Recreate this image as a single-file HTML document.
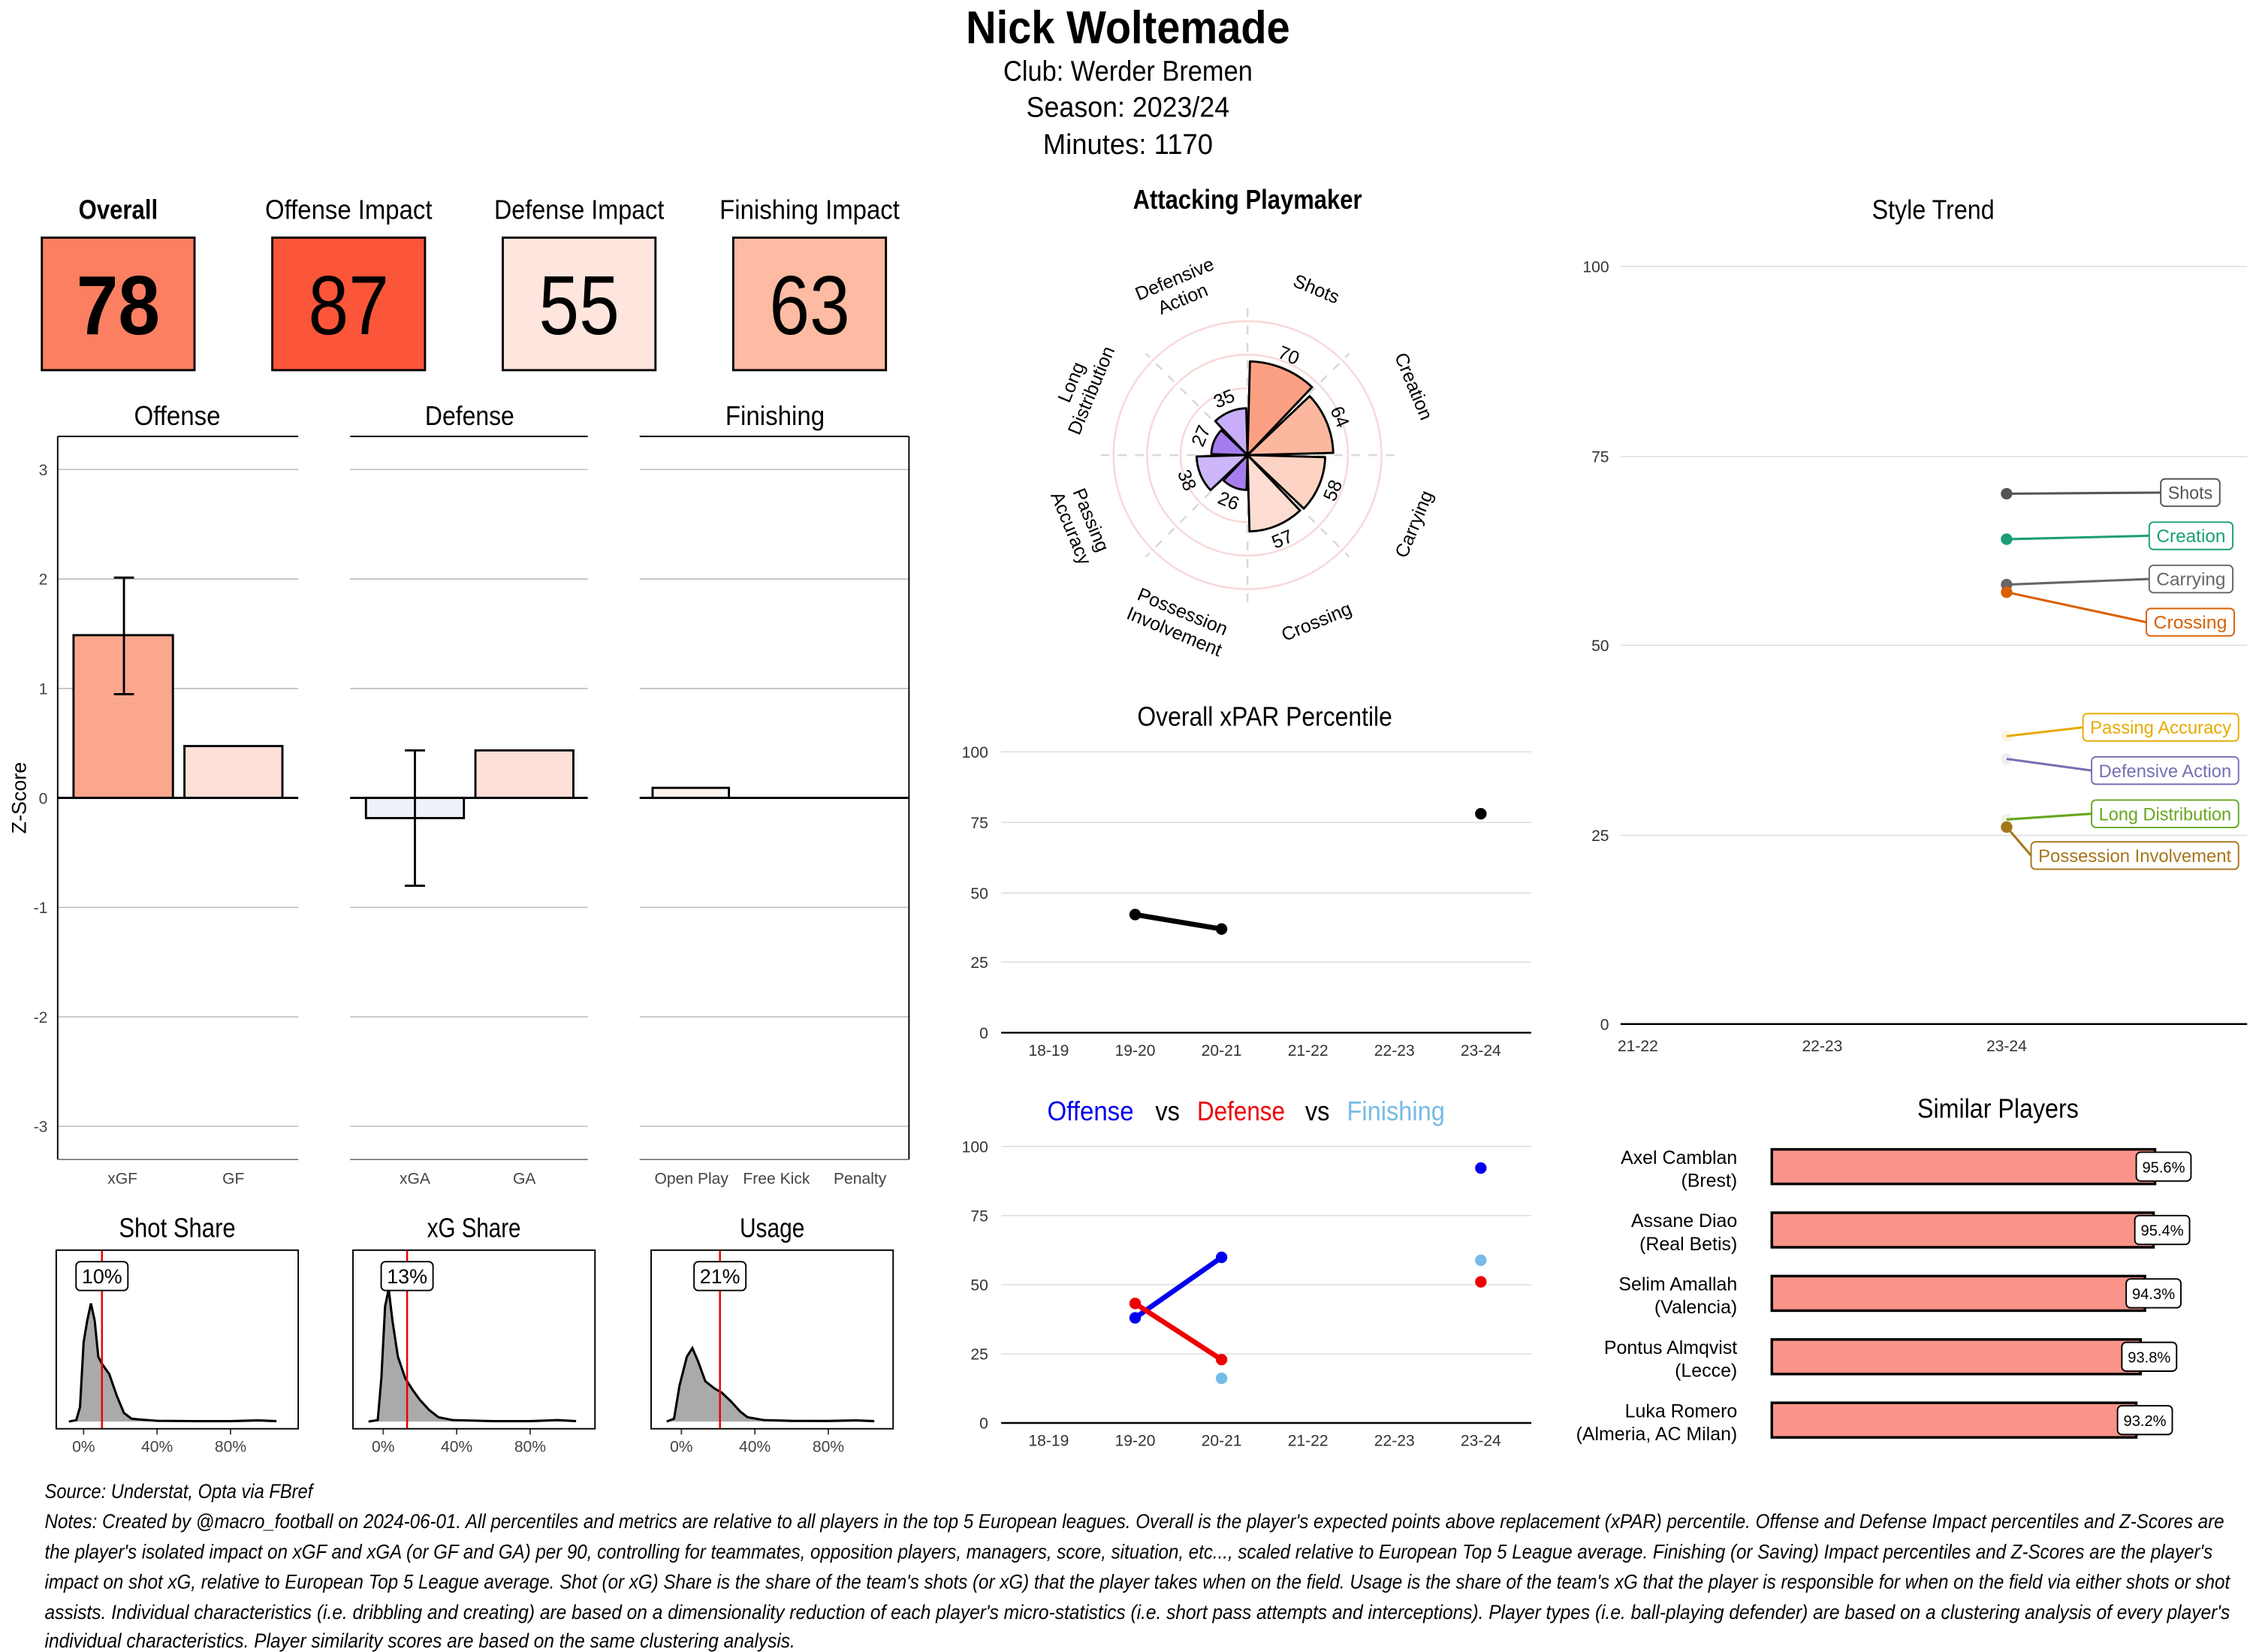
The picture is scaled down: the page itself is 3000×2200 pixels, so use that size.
<!DOCTYPE html>
<html><head><meta charset="utf-8"><style>
html,body{margin:0;padding:0;background:#fff;}
svg{display:block;}
text{font-family:"Liberation Sans Narrow","Liberation Sans",sans-serif;}
.a{font-family:"Liberation Sans",sans-serif;}
</style></head><body>
<svg id="s" width="3000" height="2200" viewBox="0 0 1564 1147" xmlns="http://www.w3.org/2000/svg">
<rect width="1564" height="1147" fill="#fff"/>
<text x="783" y="30" font-size="32" font-weight="bold" text-anchor="middle" textLength="225" lengthAdjust="spacingAndGlyphs">Nick Woltemade</text>
<text x="783" y="56" font-size="20" text-anchor="middle" textLength="173" lengthAdjust="spacingAndGlyphs">Club:  Werder Bremen</text>
<text x="783" y="81" font-size="20" text-anchor="middle" textLength="141" lengthAdjust="spacingAndGlyphs">Season:  2023/24</text>
<text x="783" y="107" font-size="20" text-anchor="middle" textLength="118" lengthAdjust="spacingAndGlyphs">Minutes:  1170</text>

<g font-size="19" text-anchor="middle">
<text x="82" y="152" font-weight="bold" textLength="55" lengthAdjust="spacingAndGlyphs">Overall</text>
<text x="242" y="152" textLength="116" lengthAdjust="spacingAndGlyphs">Offense Impact</text>
<text x="402" y="152" textLength="118" lengthAdjust="spacingAndGlyphs">Defense Impact</text>
<text x="562" y="152" textLength="125" lengthAdjust="spacingAndGlyphs">Finishing Impact</text>
</g>
<g stroke="#000" stroke-width="1.5">
<rect x="29" y="165" width="106" height="92" fill="#FC7F62"/>
<rect x="189" y="165" width="106" height="92" fill="#FB5639"/>
<rect x="349" y="165" width="106" height="92" fill="#FEE5DD"/>
<rect x="509" y="165" width="106" height="92" fill="#FCBBA2"/>
</g>
<g font-size="58" text-anchor="middle">
<text x="82" y="232" font-weight="bold" textLength="58" lengthAdjust="spacingAndGlyphs">78</text>
<text x="242" y="232" textLength="56" lengthAdjust="spacingAndGlyphs">87</text>
<text x="402" y="232" textLength="56" lengthAdjust="spacingAndGlyphs">55</text>
<text x="562" y="232" textLength="56" lengthAdjust="spacingAndGlyphs">63</text>
</g>

<g font-size="19" text-anchor="middle">
<text x="123" y="295" textLength="60" lengthAdjust="spacingAndGlyphs">Offense</text>
<text x="326" y="295" textLength="62" lengthAdjust="spacingAndGlyphs">Defense</text>
<text x="538" y="295" textLength="69" lengthAdjust="spacingAndGlyphs">Finishing</text>
</g>
<g stroke="#bbb" stroke-width="0.8">
<line x1="40" x2="207" y1="326" y2="326"/><line x1="40" x2="207" y1="402" y2="402"/><line x1="40" x2="207" y1="478" y2="478"/><line x1="40" x2="207" y1="630" y2="630"/><line x1="40" x2="207" y1="706" y2="706"/><line x1="40" x2="207" y1="782" y2="782"/>
<line x1="243" x2="408" y1="326" y2="326"/><line x1="243" x2="408" y1="402" y2="402"/><line x1="243" x2="408" y1="478" y2="478"/><line x1="243" x2="408" y1="630" y2="630"/><line x1="243" x2="408" y1="706" y2="706"/><line x1="243" x2="408" y1="782" y2="782"/>
<line x1="444" x2="631" y1="326" y2="326"/><line x1="444" x2="631" y1="402" y2="402"/><line x1="444" x2="631" y1="478" y2="478"/><line x1="444" x2="631" y1="630" y2="630"/><line x1="444" x2="631" y1="706" y2="706"/><line x1="444" x2="631" y1="782" y2="782"/>
</g>
<g stroke="#000" stroke-width="1" fill="none">
<line x1="40" x2="207" y1="303" y2="303"/><line x1="243" x2="408" y1="303" y2="303"/><line x1="444" x2="631" y1="303" y2="303"/>
<line x1="40" x2="40" y1="303" y2="805"/><line x1="631" x2="631" y1="303" y2="805"/>
<line x1="40" x2="207" y1="805" y2="805" stroke="#333" stroke-width="0.6"/>
<line x1="243" x2="408" y1="805" y2="805" stroke="#333" stroke-width="0.6"/>
<line x1="444" x2="631" y1="805" y2="805" stroke="#333" stroke-width="0.6"/>
</g>
<g stroke="#000" stroke-width="1.5">
<rect x="51" y="441" width="69" height="113" fill="#FBA78E"/>
<rect x="128" y="518" width="68" height="36" fill="#FDE0D8"/>
<rect x="254" y="554" width="68" height="14" fill="#EEF0FA"/>
<rect x="330" y="521" width="68" height="33" fill="#FDE0D8"/>
<rect x="453" y="547" width="53" height="7" fill="#FFF5F0"/>
</g>
<g stroke="#000" stroke-width="1.5">
<line x1="40" x2="207" y1="554" y2="554"/><line x1="243" x2="408" y1="554" y2="554"/><line x1="444" x2="631" y1="554" y2="554"/>
<line x1="86" x2="86" y1="401" y2="482"/><line x1="79" x2="93" y1="401" y2="401"/><line x1="79" x2="93" y1="482" y2="482"/>
<line x1="288" x2="288" y1="521" y2="615"/><line x1="281" x2="295" y1="521" y2="521"/><line x1="281" x2="295" y1="615" y2="615"/>
</g>
<g font-size="11" fill="#444" text-anchor="end">
<text x="33" y="330">3</text><text x="33" y="406">2</text><text x="33" y="482">1</text><text x="33" y="558">0</text><text x="33" y="634">-1</text><text x="33" y="710">-2</text><text x="33" y="786">-3</text>
</g>
<text x="18" y="554" font-size="14" text-anchor="middle" transform="rotate(-90 18 554)">Z-Score</text>
<g font-size="11" fill="#444" text-anchor="middle">
<text x="85" y="822">xGF</text><text x="162" y="822">GF</text><text x="288" y="822">xGA</text><text x="364" y="822">GA</text>
<text x="480" y="822">Open Play</text><text x="539" y="822">Free Kick</text><text x="597" y="822">Penalty</text>
</g>

<g font-size="19" text-anchor="middle">
<text x="123" y="859" textLength="81" lengthAdjust="spacingAndGlyphs">Shot Share</text><text x="329" y="859" textLength="65" lengthAdjust="spacingAndGlyphs">xG Share</text><text x="536" y="859" textLength="45" lengthAdjust="spacingAndGlyphs">Usage</text>
</g>
<g id="dens"></g>
<g stroke="#000" stroke-width="1" fill="none">
<rect x="39" y="868" width="168" height="124"/><rect x="245" y="868" width="168" height="124"/><rect x="452" y="868" width="168" height="124"/>
</g>
<g font-size="11" fill="#444" text-anchor="middle">
<text x="58" y="1008">0%</text><text x="109" y="1008">40%</text><text x="160" y="1008">80%</text>
<text x="266" y="1008">0%</text><text x="317" y="1008">40%</text><text x="368" y="1008">80%</text>
<text x="473" y="1008">0%</text><text x="524" y="1008">40%</text><text x="575" y="1008">80%</text>
</g>

<text x="866" y="145" font-size="19" font-weight="bold" text-anchor="middle" textLength="159" lengthAdjust="spacingAndGlyphs">Attacking Playmaker</text>
<g id="polar"></g>

<text x="878" y="504" font-size="19" text-anchor="middle" textLength="177" lengthAdjust="spacingAndGlyphs">Overall xPAR Percentile</text>
<g stroke="#ddd" stroke-width="0.8">
<line x1="695" x2="1063" y1="522" y2="522"/><line x1="695" x2="1063" y1="571" y2="571"/><line x1="695" x2="1063" y1="620" y2="620"/><line x1="695" x2="1063" y1="668" y2="668"/>
</g>
<line x1="695" x2="1063" y1="717" y2="717" stroke="#000" stroke-width="1.3"/>
<g font-size="11" fill="#333" text-anchor="end">
<text class="a" x="686" y="526">100</text><text class="a" x="686" y="575">75</text><text class="a" x="686" y="624">50</text><text class="a" x="686" y="672">25</text><text class="a" x="686" y="721">0</text>
</g>
<g font-size="11" fill="#333" text-anchor="middle">
<text class="a" x="728" y="733">18-19</text><text class="a" x="788" y="733">19-20</text><text class="a" x="848" y="733">20-21</text><text class="a" x="908" y="733">21-22</text><text class="a" x="968" y="733">22-23</text><text class="a" x="1028" y="733">23-24</text>
</g>
<line x1="788" y1="635" x2="848" y2="645" stroke="#000" stroke-width="3.5"/>
<circle cx="788" cy="635" r="4"/><circle cx="848" cy="645" r="4"/><circle cx="1028" cy="565" r="4"/>

<g font-size="19">
<text x="727" y="778" fill="#0000EE" textLength="60" lengthAdjust="spacingAndGlyphs">Offense</text>
<text x="802" y="778" textLength="17" lengthAdjust="spacingAndGlyphs">vs</text>
<text x="831" y="778" fill="#EE0000" textLength="61" lengthAdjust="spacingAndGlyphs">Defense</text>
<text x="906" y="778" textLength="17" lengthAdjust="spacingAndGlyphs">vs</text>
<text x="935" y="778" fill="#74BBE8" textLength="68" lengthAdjust="spacingAndGlyphs">Finishing</text>
</g>
<g stroke="#ddd" stroke-width="0.8">
<line x1="695" x2="1063" y1="796" y2="796"/><line x1="695" x2="1063" y1="844" y2="844"/><line x1="695" x2="1063" y1="892" y2="892"/><line x1="695" x2="1063" y1="940" y2="940"/>
</g>
<line x1="695" x2="1063" y1="988" y2="988" stroke="#000" stroke-width="1.3"/>
<g font-size="11" fill="#333" text-anchor="end">
<text class="a" x="686" y="800">100</text><text class="a" x="686" y="848">75</text><text class="a" x="686" y="896">50</text><text class="a" x="686" y="944">25</text><text class="a" x="686" y="992">0</text>
</g>
<g font-size="11" fill="#333" text-anchor="middle">
<text class="a" x="728" y="1004">18-19</text><text class="a" x="788" y="1004">19-20</text><text class="a" x="848" y="1004">20-21</text><text class="a" x="908" y="1004">21-22</text><text class="a" x="968" y="1004">22-23</text><text class="a" x="1028" y="1004">23-24</text>
</g>
<line x1="788" y1="915" x2="848" y2="873" stroke="#0000EE" stroke-width="3.5"/>
<line x1="788" y1="905" x2="848" y2="944" stroke="#EE0000" stroke-width="3.5"/>
<circle cx="788" cy="905" r="4" fill="#EE0000"/><circle cx="848" cy="944" r="4" fill="#EE0000"/>
<circle cx="788" cy="915" r="4" fill="#0000EE"/><circle cx="848" cy="873" r="4" fill="#0000EE"/>
<circle cx="848" cy="957" r="4" fill="#74BBE8"/><circle cx="1028" cy="875" r="4" fill="#74BBE8"/>
<circle cx="1028" cy="811" r="4" fill="#0000EE"/><circle cx="1028" cy="890" r="4" fill="#EE0000"/>

<text x="1342" y="152" font-size="19" text-anchor="middle" textLength="85" lengthAdjust="spacingAndGlyphs">Style Trend</text>
<g stroke="#ddd" stroke-width="0.8">
<line x1="1125" x2="1560" y1="185" y2="185"/><line x1="1125" x2="1560" y1="317" y2="317"/><line x1="1125" x2="1560" y1="448" y2="448"/><line x1="1125" x2="1560" y1="580" y2="580"/>
</g>
<line x1="1125" x2="1560" y1="711" y2="711" stroke="#000" stroke-width="1.3"/>
<g font-size="11" fill="#333" text-anchor="end">
<text class="a" x="1117" y="189">100</text><text class="a" x="1117" y="321">75</text><text class="a" x="1117" y="452">50</text><text class="a" x="1117" y="584">25</text><text class="a" x="1117" y="715">0</text>
</g>
<g font-size="11" fill="#333" text-anchor="middle">
<text class="a" x="1137" y="730">21-22</text><text class="a" x="1265" y="730">22-23</text><text class="a" x="1393" y="730">23-24</text>
</g>
<g id="style"></g>

<text x="1387" y="776" font-size="19" text-anchor="middle" textLength="112" lengthAdjust="spacingAndGlyphs">Similar Players</text>
<g id="sim"></g>

<g font-size="14" font-style="italic">
<text x="31" y="1040" textLength="186" lengthAdjust="spacingAndGlyphs">Source: Understat, Opta via FBref</text>
<text x="31" y="1061" textLength="1513" lengthAdjust="spacingAndGlyphs">Notes: Created by @macro_football on 2024-06-01. All percentiles and metrics are relative to all players in the top 5 European leagues. Overall is the player's expected points above replacement (xPAR) percentile. Offense and Defense Impact percentiles and Z-Scores are</text>
<text x="31" y="1082" textLength="1505" lengthAdjust="spacingAndGlyphs">the player's isolated impact on xGF and xGA (or GF and GA) per 90, controlling for teammates, opposition players, managers, score, situation, etc..., scaled relative to European Top 5 League average. Finishing (or Saving) Impact percentiles and Z-Scores are the player's</text>
<text x="31" y="1103" textLength="1517" lengthAdjust="spacingAndGlyphs">impact on shot xG, relative to European Top 5 League average. Shot (or xG) Share is the share of the team's shots (or xG) that the player takes when on the field. Usage is the share of the team's xG that the player is responsible for when on the field via either shots or shot</text>
<text x="31" y="1124" textLength="1517" lengthAdjust="spacingAndGlyphs">assists. Individual characteristics (i.e. dribbling and creating) are based on a dimensionality reduction of each player's micro-statistics (i.e. short pass attempts and interceptions). Player types (i.e. ball-playing defender) are based on a clustering analysis of every player's</text>
<text x="31" y="1144" textLength="521" lengthAdjust="spacingAndGlyphs">individual characteristics. Player similarity scores are based on the same clustering analysis.</text>
</g>
</svg>
<script>
var NS="http://www.w3.org/2000/svg";
function el(p,t,a,txt){var e=document.createElementNS(NS,t);for(var k in a)e.setAttribute(k,a[k]);if(txt!==undefined)e.textContent=txt;p.appendChild(e);return e;}
var dens=document.getElementById('dens');
var D=[
 {x0:58,m:10,pts:[[-8,0],[-4,1],[-2,10],[0,55],[2,70],[4,82],[6,70],[8,45],[10,40],[14,33],[18,18],[22,6],[26,2],[30,1.5],[40,0.5],[60,0.3],[80,0.3],[95,0.8],[105,0.3]]},
 {x0:266,m:13,pts:[[-8,0],[-3,1],[-1,30],[1,80],[3,92],[5,70],[8,45],[12,30],[16,22],[20,15],[25,8],[30,3],[38,1],[60,0.3],[80,0.3],[95,1],[105,0.3]]},
 {x0:473,m:21,pts:[[-8,0],[-4,2],[-1,25],[3,45],[6,51],[9,42],[13,28],[18,23],[22,20],[27,14],[32,7],[36,3],[45,1],[60,0.5],[80,0.4],[95,0.8],[105,0.3]]}
];
D.forEach(function(d){
 var s=1.275,b=987,p="";
 d.pts.forEach(function(q,i){var x=d.x0+q[0]*s,y=b-q[1];p+=(i?"L":"M")+x.toFixed(1)+","+y.toFixed(1);});
 var first=d.x0+d.pts[0][0]*s,last=d.x0+d.pts[d.pts.length-1][0]*s;
 el(dens,'path',{d:p+"L"+last+","+b+"L"+first+","+b+"Z",fill:"#AAAAAA"});
 el(dens,'path',{d:p,fill:"none",stroke:"#000","stroke-width":1.6});
 var rx=d.x0+d.m*s;
 el(dens,'line',{x1:rx,x2:rx,y1:868,y2:992,stroke:"#E00",'stroke-width':1.3});
 el(dens,'rect',{x:rx-18,y:876,width:36,height:20,rx:3,fill:"#fff",stroke:"#000","stroke-width":1});
 el(dens,'text',{x:rx,y:891,'font-size':14,'text-anchor':'middle'},d.m+"%");
 [0,40,80].forEach(function(v){var x=d.x0+v*s;el(dens,'line',{x1:x,x2:x,y1:992,y2:996,stroke:"#444"});});
});
var P=document.getElementById('polar'),cx=866,cy=316,K=0.93;
function pt(r,a){var t=a*Math.PI/180;return [cx+r*Math.sin(t),cy-r*Math.cos(t)];}
[25,50,75,100].forEach(function(v){el(P,'circle',{cx:cx,cy:cy,r:v*K,fill:"none",stroke:"#F7D9D9","stroke-width":1.3});});
for(var i=0;i<8;i++){var a=i*45,L=(i%2==0)?102:100;var q=pt(L,a),q0=pt(0,a);el(P,'line',{x1:q0[0],y1:q0[1],x2:q[0],y2:q[1],stroke:"#D8D8D8","stroke-width":1.3,"stroke-dasharray":"6,6"});}
var B=[["Shots",70,"#FBA083"],["Creation",64,"#FCB89F"],["Carrying",58,"#FDD3C4"],["Crossing",57,"#FDDDD2"],["Possession\nInvolvement",26,"#A57DEE"],["Passing\nAccuracy",38,"#CDB7FA"],["Long\nDistribution",27,"#A57DEE"],["Defensive\nAction",35,"#C8AEF8"]];
function rot(a){if(a<=90)return a;if(a<270)return a-180;return a-360;}
B.forEach(function(b,i){
 var a0=i*45+1.5,a1=i*45+43.5,r=b[1]*K,p0=pt(r,a0),p1=pt(r,a1);
 el(P,'path',{d:"M"+cx+","+cy+"L"+p0[0]+","+p0[1]+"A"+r+","+r+" 0 0 1 "+p1[0]+","+p1[1]+"Z",fill:b[2],stroke:"#000","stroke-width":1.5,"stroke-linejoin":"round"});
});
B.forEach(function(b,i){
 var a=i*45+22.5,r=b[1]*K+10,p=pt(r,a);
 el(P,'text',{x:p[0],y:p[1]+4.5,'font-size':13,'text-anchor':'middle','class':'a',transform:"rotate("+rot(a)+" "+p[0]+" "+p[1]+")"},b[1]);
 var lp=pt(125,a),lines=b[0].split("\n");
 var t=el(P,'text',{x:lp[0],y:lp[1],'font-size':13,'text-anchor':'middle','class':'a',transform:"rotate("+rot(a)+" "+lp[0]+" "+lp[1]+")"});
 lines.forEach(function(s,j){el(t,'tspan',{x:lp[0],y:lp[1]+4.5+(j-(lines.length-1)/2)*15},s);});
});
var S=document.getElementById('style');
var T=[["Shots",70,"#555555",342,1500,1541],["Creation",64,"#1B9E77",372,1492,1550],["Carrying",58,"#666666",402,1492,1550],["Crossing",57,"#D95F02",432,1490,1551],["Passing Accuracy",38,"#E6AB02",505,1446,1554],["Defensive Action",35,"#7570B3",535,1452,1554],["Long Distribution",27,"#66A61E",565,1452,1554],["Possession Involvement",26,"#A6761D",594,1410,1554]];
T.forEach(function(t){
 var y=711-t[1]*5.26;
 el(S,'line',{x1:1393,y1:y,x2:t[4],y2:t[3],stroke:t[2],'stroke-width':1.6});
 var faint=(t[0]=="Passing Accuracy"||t[0]=="Defensive Action"||t[0]=="Long Distribution");
 el(S,'circle',{cx:1393,cy:y,r:4,fill:t[2],'fill-opacity':faint?0.12:1});
 el(S,'rect',{x:t[4],y:t[3]-9.5,width:t[5]-t[4],height:19,rx:3,fill:"#fff",stroke:t[2],'stroke-width':1});
 el(S,'text',{x:(t[4]+t[5])/2,y:t[3]+4.5,'font-size':12.5,'text-anchor':'middle',fill:t[2],'class':'a',textLength:t[5]-t[4]-10,lengthAdjust:"spacingAndGlyphs"},t[0]);
});
var M=document.getElementById('sim');
var R=[["Axel Camblan","(Brest)","95.6%",1496],["Assane Diao","(Real Betis)","95.4%",1495],["Selim Amallah","(Valencia)","94.3%",1489],["Pontus Almqvist","(Lecce)","93.8%",1486],["Luka Romero","(Almeria, AC Milan)","93.2%",1483]];
R.forEach(function(r,i){
 var c=810+i*44;
 el(M,'rect',{x:1230,y:c-12,width:r[3]-1230,height:24,fill:"#FA9489",stroke:"#000",'stroke-width':1.8});
 el(M,'text',{x:1206,y:c-2,'font-size':13,'text-anchor':'end'},r[0]);
 el(M,'text',{x:1206,y:c+14,'font-size':13,'text-anchor':'end'},r[1]);
 el(M,'rect',{x:r[3]-13,y:c-10,width:38,height:20,rx:3,fill:"#fff",stroke:"#000",'stroke-width':1});
 el(M,'text',{x:r[3]+6,y:c+4,'font-size':10.5,'text-anchor':'middle'},r[2]);
});
</script>
</body></html>
